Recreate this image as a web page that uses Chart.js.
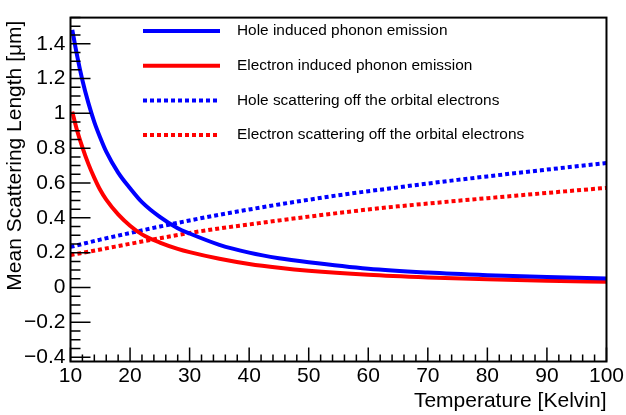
<!DOCTYPE html>
<html>
<head>
<meta charset="utf-8">
<script src="https://cdn.jsdelivr.net/npm/chart.js@4.4.1/dist/chart.umd.min.js"></script>
<style>
  html, body { margin: 0; padding: 0; background: #fff; }
  #wrap { width: 626px; height: 415px; }
</style>
</head>
<body>
<div id="wrap"><canvas id="scatChart" width="626" height="415"></canvas></div>
<script>
// temperatures (K) where the phonon-emission curves were sampled
const phononT = [10.3, 11, 12, 13, 14, 15, 16, 18, 20, 22, 25, 28, 30, 35, 40, 45, 50, 60, 70, 80, 90, 100];
const holePhonon = [1.48, 1.35, 1.19, 1.06, 0.95, 0.86, 0.78, 0.66, 0.57, 0.49, 0.405, 0.34, 0.31, 0.245, 0.20, 0.168, 0.145, 0.108, 0.086, 0.071, 0.060, 0.052];
const electronPhonon = [1.01, 0.915, 0.805, 0.71, 0.63, 0.56, 0.505, 0.42, 0.355, 0.305, 0.258, 0.222, 0.203, 0.165, 0.135, 0.113, 0.096, 0.073, 0.058, 0.047, 0.039, 0.033];

// temperatures (K) for the orbital-electron scattering curves
const orbitalT = [10, 15, 20, 25, 30, 35, 40, 45, 50, 55, 60, 65, 70, 75, 80, 85, 90, 95, 100];
const holeOrbital = [0.233, 0.275, 0.313, 0.350, 0.385, 0.418, 0.448, 0.477, 0.504, 0.530, 0.553, 0.575, 0.597, 0.618, 0.638, 0.658, 0.677, 0.696, 0.715];
const electronOrbital = [0.186, 0.218, 0.251, 0.283, 0.313, 0.339, 0.362, 0.385, 0.407, 0.428, 0.448, 0.466, 0.482, 0.498, 0.513, 0.528, 0.543, 0.558, 0.572];

const seriesLabels = [
    "Hole induced phonon emission",
    "Electron induced phonon emission",
    "Hole scattering off the orbital electrons",
    "Electron scattering off the orbital electrons"
];

const xTitle = "Temperature [Kelvin]";
const yTitle = "Mean Scattering Length [\u03bcm]";

const xRange = [10, 100];
const yRange = [-0.425, 1.55];

const FONT = "'Liberation Sans', Arial, sans-serif";

function toPoints(xs, ys) {
    return xs.map((x, i) => ({ x: x, y: ys[i] }));
}

function fmtTick(v) {
    const n = Number(v.toFixed(2));
    if (n === 0) return "0";
    return (n < 0 ? "\u2212" : "") + String(Math.abs(n));
}

// ROOT-like inner ticks (major + minor), frame and the rotated y title
const frameTicks = {
    id: "frameTicks",
    afterDraw(chart) {
        const { ctx, chartArea: a, scales } = chart;
        ctx.save();
        ctx.strokeStyle = "#000";
        ctx.lineWidth = 1.5;
        ctx.beginPath();
        const xs = scales.x;
        for (let i = 0; i <= 45; i++) {
            const v = xRange[0] + i * 2;
            const px = xs.getPixelForValue(v);
            const len = (v % 10 === 0) ? 14 : 7;
            ctx.moveTo(px, a.bottom);
            ctx.lineTo(px, a.bottom - len);
        }
        const ys = scales.y;
        for (let k = Math.ceil(yRange[0] / 0.05); k * 0.05 <= yRange[1] + 1e-9; k++) {
            const py = ys.getPixelForValue(k * 0.05);
            const len = (k % 4 === 0) ? 20 : 10;
            ctx.moveTo(a.left, py);
            ctx.lineTo(a.left + len, py);
        }
        ctx.stroke();

        ctx.lineWidth = 2;
        ctx.strokeRect(a.left, a.top, a.right - a.left, a.bottom - a.top);

        // y axis title, right-aligned to the top of the axis
        ctx.translate(15.6, a.top + 3);
        ctx.rotate(-Math.PI / 2);
        ctx.font = "21px " + FONT;
        ctx.fillStyle = "#000";
        ctx.textAlign = "right";
        ctx.textBaseline = "middle";
        ctx.fillText(yTitle, 0, 0);
        ctx.restore();
    }
};

// legend box inside the frame
const innerLegend = {
    id: "innerLegend",
    afterDraw(chart) {
        const ctx = chart.ctx;
        const x0 = 143, x1 = 220, tx = 237, top = 31, step = 34.7;
        ctx.save();
        ctx.font = "15.4px " + FONT;
        ctx.textBaseline = "middle";
        ctx.fillStyle = "#000";
        chart.data.datasets.forEach((ds, i) => {
            const y = top + i * step;
            ctx.strokeStyle = ds.borderColor;
            ctx.lineWidth = ds.borderWidth;
            ctx.setLineDash(ds.borderDash || []);
            ctx.beginPath();
            ctx.moveTo(x0, y);
            ctx.lineTo(x1, y);
            ctx.stroke();
            ctx.setLineDash([]);
            ctx.fillText(ds.label, tx, y);
        });
        ctx.restore();
    }
};

const solid = { borderWidth: 4, pointRadius: 0, fill: false, cubicInterpolationMode: "monotone" };
const dotted = { borderWidth: 4, pointRadius: 0, fill: false, borderDash: [4, 3], borderCapStyle: "butt", cubicInterpolationMode: "monotone" };

const ctx = document.getElementById("scatChart").getContext("2d");
new Chart(ctx, {
    type: "line",
    data: {
        datasets: [
            Object.assign({ label: seriesLabels[0], data: toPoints(phononT, holePhonon), borderColor: "#0000ff" }, solid),
            Object.assign({ label: seriesLabels[1], data: toPoints(phononT, electronPhonon), borderColor: "#ff0000" }, solid),
            Object.assign({ label: seriesLabels[2], data: toPoints(orbitalT, holeOrbital), borderColor: "#0000ff" }, dotted),
            Object.assign({ label: seriesLabels[3], data: toPoints(orbitalT, electronOrbital), borderColor: "#ff0000" }, dotted)
        ]
    },
    options: {
        responsive: false,
        animation: false,
        layout: { padding: { top: 5, right: 19, left: 0, bottom: 0 } },
        plugins: {
            legend: { display: false },
            tooltip: { enabled: false }
        },
        scales: {
            x: {
                type: "linear",
                min: xRange[0],
                max: xRange[1],
                afterFit(s) { s.height = 53.5; },
                grid: { display: false, drawTicks: false },
                border: { display: false },
                ticks: {
                    stepSize: 10,
                    maxRotation: 0,
                    autoSkip: false,
                    padding: 2,
                    color: "#000",
                    font: { family: FONT, size: 21 },
                    callback: v => fmtTick(v)
                },
                title: {
                    display: true,
                    text: xTitle,
                    align: "end",
                    color: "#000",
                    font: { family: FONT, size: 21 },
                    padding: { top: 0, bottom: 1 }
                }
            },
            y: {
                min: yRange[0],
                max: yRange[1],
                afterFit(s) { s.width = 70.5; },
                grid: { display: false, drawTicks: false },
                border: { display: false },
                ticks: {
                    stepSize: 0.2,
                    includeBounds: false,
                    padding: 5,
                    color: "#000",
                    font: { family: FONT, size: 21 },
                    callback: v => fmtTick(v)
                }
            }
        }
    },
    plugins: [frameTicks, innerLegend]
});
</script>
</body>
</html>
